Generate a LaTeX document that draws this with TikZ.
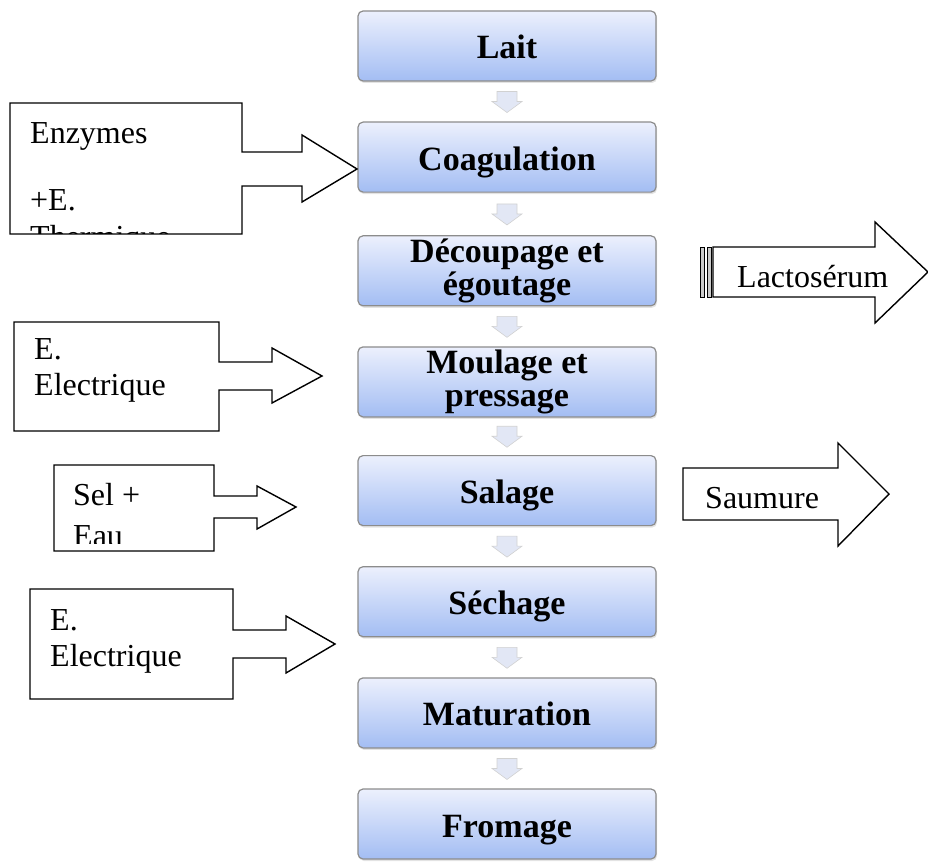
\documentclass[tikz,border=0pt]{standalone}
\usepackage{fontspec}
\setmainfont{Liberation Serif}
\usetikzlibrary{shadows}
\begin{document}
\begin{tikzpicture}[x=1pt,y=-1pt,
  stepbox/.style={draw=black!45, line width=1.2pt, rounded corners=5pt,
    top color=stepTop, bottom color=stepBot, minimum width=298pt,
    minimum height=70pt, inner sep=0pt, align=center,
    drop shadow={opacity=0.22, shadow xshift=1pt, shadow yshift=-2pt},
    font=\fontsize{34}{33}\selectfont\bfseries},
  oneline/.style={text height=30pt, text depth=4pt},
  callout/.style={draw=black, line width=1.4pt, fill=white},
  calltext/.style={anchor=base west, inner sep=0pt,
    font=\fontsize{32}{36}\selectfont},
  chev/.style={fill=chevFill, draw=black!18, line width=0.6pt}]
\definecolor{stepTop}{RGB}{236,240,253}
\definecolor{stepBot}{RGB}{163,189,243}
\definecolor{chevFill}{RGB}{226,231,245}

\useasboundingbox (0,0) rectangle (928,864);

% process steps
\node[stepbox, oneline] (lait)  at (507,46)    {Lait};
\node[stepbox, oneline] (coag)  at (507,157.1) {Coagulation};
\node[stepbox] (decou) at (507,270.8) {Découpage et\\égoutage};
\node[stepbox] (moul)  at (507,381.9) {Moulage et\\pressage};
\node[stepbox, oneline] (sal)   at (507,490.6) {Salage};
\node[stepbox, oneline] (sech)  at (507,601.7) {Séchage};
\node[stepbox, oneline] (matu)  at (507,712.9) {Maturation};
\node[stepbox, oneline] (from)  at (507,824)   {Fromage};

% small down arrows between the steps
\foreach \a/\b in {lait/coag, coag/decou, decou/moul, moul/sal, sal/sech, sech/matu, matu/from}{
  \path (\a.south) -- (\b.north) coordinate[midway] (m);
  \draw[chev] ([shift={(-10,-10)}]m) -- ([shift={(10,-10)}]m) -- ([shift={(10,0)}]m)
    -- ([shift={(15,0)}]m) -- ([shift={(0,11)}]m) -- ([shift={(-15,0)}]m)
    -- ([shift={(-10,0)}]m) -- cycle;
}

% inputs: Enzymes + E. Thermique
\draw[callout] (10,103) -- (242,103) -- (242,152) -- (302,152) -- (302,135)
  -- (357,169) -- (302,202) -- (302,186) -- (242,186) -- (242,234) -- (10,234) -- cycle;
\begin{scope}
  \clip (11,104) rectangle (241,233);
  \node[calltext] (enz) at (30,143) {Enzymes};
  \node[calltext] (ee)  at (30,210) {+E.};
  \node[calltext] (th)  at (30,247) {Thermique};
\end{scope}

% input: E. Electrique (moulage)
\draw[callout] (14,322) -- (219,322) -- (219,362) -- (272,362) -- (272,348)
  -- (322,376) -- (272,403) -- (272,390) -- (219,390) -- (219,431) -- (14,431) -- cycle;
\node[calltext] (el1a) at (34,359) {E.};
\node[calltext] (el1b) at (34,395) {Electrique};

% input: Sel + Eau
\draw[callout] (54,465) -- (214,465) -- (214,496) -- (257,496) -- (257,486)
  -- (296,507) -- (257,529) -- (257,518) -- (214,518) -- (214,551) -- (54,551) -- cycle;
\begin{scope}
  \clip (55,466) rectangle (213,543);
  \node[calltext] (sel) at (73,505) {Sel +};
  \node[calltext] (eau) at (73,546) {Eau};
\end{scope}

% input: E. Electrique (sechage)
\draw[callout] (30,589) -- (233,589) -- (233,630) -- (286,630) -- (286,616)
  -- (335,644) -- (286,673) -- (286,658) -- (233,658) -- (233,699) -- (30,699) -- cycle;
\node[calltext] (el2a) at (50,630) {E.};
\node[calltext] (el2b) at (50,666) {Electrique};

% output: Lactoserum (striped arrow)
\draw[callout] (713,247) -- (875,247) -- (875,222) -- (928,272) -- (875,323)
  -- (875,297) -- (713,297) -- cycle;
\draw[black, line width=1pt, fill=black!20] (700,247) rectangle (704.5,297);
\draw[black, line width=1pt, fill=black!20] (707,247) rectangle (711,297);
\node[calltext] (lac) at (737,287) {Lactosérum};

% output: Saumure
\draw[callout] (683,468) -- (838,468) -- (838,443) -- (889,494) -- (838,546)
  -- (838,520) -- (683,520) -- cycle;
\node[calltext] (sau) at (705,508) {Saumure};
\end{tikzpicture}
\end{document}
